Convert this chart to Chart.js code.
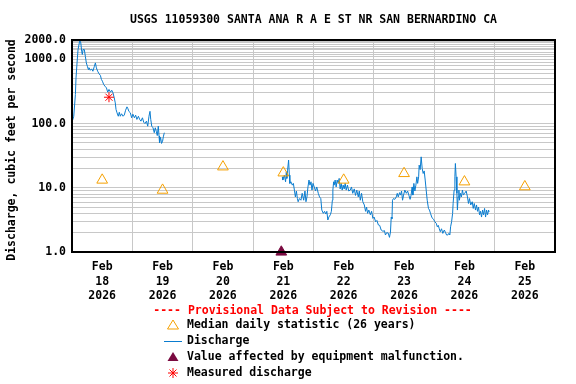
<!DOCTYPE html>
<html>
<head>
<meta charset="utf-8">
<script src="https://cdn.jsdelivr.net/npm/chart.js@4/dist/chart.umd.min.js"></script>
<style>
html,body{margin:0;padding:0;background:#fff;}
canvas{display:block;}
</style>
</head>
<body>
<canvas id="c" width="576" height="384"></canvas>
<script>
// ---- data (hours since Feb 18 2026 00:00) ----
const chartTitle = "USGS 11059300 SANTA ANA R A E ST NR SAN BERNARDINO CA";
const yAxisTitle = "Discharge, cubic feet per second";
const xTickMonth = "Feb";
const xTickDays = ["18","19","20","21","22","23","24","25"];
const xTickYear = "2026";
const yLabelValues = [1, 10, 100, 1000, 2000];
const yLabelTexts = ["1.0", "10.0", "100.0", "1000.0", "2000.0"];

const dischargeHours = [
 0,0.7,1.35,1.6,2.0,2.4,3.1,3.5,3.85,4.1,4.4,4.9,5.3,5.7,6.1,6.5,6.75,7.3,7.8,8.3,8.9,9.3,9.7,10.2,10.7,11.3,11.7,12.1,12.6,13.1,13.7,14.2,14.7,15.3,15.8,16.3,16.8,17.2,17.5,17.9,18.4,18.8,19.2,19.7,20.3,20.8,21.3,21.85,22.25,22.6,23.2,23.7,24.2,24.8,25.3,25.8,26.4,26.9,27.4,28.0,28.5,29.0,29.6,30.1,30.6,31.0,31.3,31.7,32.2,32.7,33.1,33.5,33.9,34.3,34.6,34.8,35.2,35.6,36.0,36.3,36.7,
 50,
 83.6,83.8,84.4,84.9,85.2,85.4,85.7,86.1,86.4,86.6,87.0,87.6,88.0,88.4,88.8,89.2,89.6,89.9,90.4,91.0,91.5,92.1,92.6,93.0,93.4,93.8,94.2,94.6,95.0,95.4,95.8,96.3,96.8,97.3,97.9,98.4,98.9,99.3,99.9,100.4,100.9,101.3,101.7,102.1,102.7,103.1,103.5,103.7,104.0,104.2,104.6,105.0,105.4,105.8,106.2,106.6,107.0,107.4,107.8,108.2,108.6,109.0,109.5,110.0,110.6,111.1,111.6,112.2,112.7,113.2,113.8,114.2,114.6,115.1,115.6,116.2,116.7,117.1,117.5,118.0,118.6,119.1,119.6,120.1,120.7,121.2,121.8,
 122.3,122.9,123.6,124.2,124.6,125.1,125.7,126.2,126.6,126.9,127.2,127.4,127.8,128.3,128.9,129.3,129.7,130.2,130.6,131.0,131.4,131.8,132.3,132.9,133.4,133.9,134.4,134.8,135.2,135.5,135.9,136.3,136.7,137.1,137.4,137.8,138.0,138.4,138.8,139.2,139.6,140.0,140.4,140.8,141.2,141.7,142.1,142.5,143.0,143.4,143.8,144.2,144.8,145.2,145.6,146.0,146.4,146.9,147.4,148.0,148.5,148.9,149.4,149.8,150.2,150.5,150.9,151.3,151.5,151.9,152.2,152.4,152.7,153.0,153.2,153.5,153.8,154.0,154.4,154.8,155.2,155.6,156.1,156.7,157.2,157.6,158.0,158.5,159.1,159.5,159.9,160.4,160.8,161.2,161.6,162.0,162.4,162.8,163.2,163.6,164.0,164.4,164.8,165.2,165.6,165.8
];
const dischargeValues = [
 105,130,283,514,879,1420,1980,1800,1336,1189,1420,1420,1117,880,781,694,740,676,710,653,781,880,735,653,601,560,486,456,405,382,359,308,340,308,330,300,251,210,166,147,130,150,130,142,130,136,161,182,170,155,147,123,140,123,135,116,130,116,109,123,105,100,109,91,130,155,116,91,86,72,86,76,65,91,64,50,61,49,53,62,72,
 null,
 14.8,13.2,15.7,12.4,17.7,14,18.8,27,15.7,11.7,12.4,11,11.7,9.2,7.2,8.9,6.8,6.06,6.8,6.4,8.2,6.4,8.9,6.06,7.2,10.3,13.2,11,12.4,9.2,11.7,10.3,8.9,10.3,8.2,7.2,6.8,4.5,4.0,4.3,3.9,4.3,3.15,3.5,3.8,4.3,6.4,9.2,12.4,11,13.2,10.3,13.2,11.7,14,9.6,11.7,9.2,11,9.6,11.7,9.2,11,8.9,9.2,10.3,8.2,9.6,7.6,9.2,7.2,8.9,6.4,8.2,6.06,5.4,4.3,5.0,4.0,4.5,3.8,4.3,3.34,3.5,2.96,3.1,2.63,
 2.6,2.2,2.1,2.15,1.84,2.0,1.97,1.69,2.05,3.5,3.3,6.4,6.8,6.6,7.2,8.2,7.2,8.4,7.7,8.9,6.4,7.7,9.2,8.2,8.9,7.7,6.6,7.7,10.3,7.7,11.7,8.9,11,14.8,11.7,14.8,22.5,19.2,30.3,20,16.7,18.3,13.2,9.2,6.4,4.77,4.5,4.0,3.5,3.3,3.2,2.96,2.8,2.47,2.6,2.3,2.07,2.3,1.95,2.2,2.0,1.84,1.84,1.95,1.84,2.47,2.96,4.0,5.7,9.2,14.8,23.9,14.8,8.2,4.5,7.2,9.2,6.4,8.2,7.2,9.2,7.7,8.2,8.9,7.2,5.7,6.8,5.4,6.06,4.77,5.7,4.5,5.4,4.3,5.0,3.8,4.3,3.5,4.5,3.8,4.77,3.5,4.5,3.8,4.5,4.2
];

const medianHours = [12, 36, 60, 84, 108, 132, 156, 180];
const medianValues = [13.2, 9.2, 21.2, 17.1, 13.2, 16.7, 12.4, 10.4];

const malfunctionHours = [83.2];
const malfunctionValues = [1.0];

const measuredHours = [14.7];
const measuredValues = [257];

const legendHeader = "---- Provisional Data Subject to Revision ----";
const legendLabels = [
  "Median daily statistic (26 years)",
  "Discharge",
  "Value affected by equipment malfunction.",
  "Measured discharge"
];

// ---- styling ----
const FONT = '"DejaVu Sans Mono", monospace';
const BLUE = '#0a7ccf';
const ORANGE = '#f5a000';
const MAROON = '#7a0a40';
const RED = '#ff0000';
const GRID = '#c8c8c8';

const pts = (xs, ys) => xs.map((x, i) => ({x: x, y: ys[i]}));

// gridline values on the log axis
const yGridValues = [];
for (let d = 1; d <= 100; d *= 10) for (let m = 1; m <= 9; m++) yGridValues.push(m * d);
for (let m = 1000; m <= 2000; m += 100) yGridValues.push(m);

const decor = {
  id: 'decor',
  afterDraw(chart) {
    const ctx = chart.ctx, a = chart.chartArea;
    ctx.save();
    // frame
    ctx.strokeStyle = '#000';
    ctx.lineWidth = 2;
    ctx.strokeRect(a.left, a.top, a.right - a.left, a.bottom - a.top);
    // title
    ctx.fillStyle = '#000';
    ctx.font = 'bold 11.5px ' + FONT;
    ctx.textAlign = 'center';
    ctx.textBaseline = 'middle';
    ctx.fillText(chartTitle, (a.left + a.right) / 2, 20);
    // y-axis title
    ctx.save();
    ctx.translate(12, 150);
    ctx.rotate(-Math.PI / 2);
    ctx.fillText(yAxisTitle, 0, 0);
    ctx.restore();
    // legend
    ctx.fillStyle = RED;
    ctx.fillText(legendHeader, 312.5, 311);
    ctx.textAlign = 'left';
    ctx.fillStyle = '#000';
    const rows = [325, 341, 357, 373];
    const tx = 187;
    legendLabels.forEach((t, i) => ctx.fillText(t, tx, rows[i]));
    const ix = 173;
    // open orange triangle
    ctx.strokeStyle = ORANGE; ctx.lineWidth = 1;
    ctx.beginPath();
    ctx.moveTo(ix, rows[0] - 5); ctx.lineTo(ix + 5.5, rows[0] + 4); ctx.lineTo(ix - 5.5, rows[0] + 4); ctx.closePath();
    ctx.stroke();
    // blue line
    ctx.strokeStyle = BLUE;
    ctx.beginPath(); ctx.moveTo(164, rows[1] + 0.5); ctx.lineTo(182, rows[1] + 0.5); ctx.stroke();
    // maroon filled triangle
    ctx.fillStyle = MAROON;
    ctx.beginPath();
    ctx.moveTo(ix, rows[2] - 5); ctx.lineTo(ix + 5.5, rows[2] + 4); ctx.lineTo(ix - 5.5, rows[2] + 4); ctx.closePath();
    ctx.fill();
    // red asterisk
    ctx.strokeStyle = RED;
    ctx.beginPath();
    const r = 5, cy = rows[3];
    ctx.moveTo(ix - r, cy); ctx.lineTo(ix + r, cy);
    ctx.moveTo(ix, cy - r); ctx.lineTo(ix, cy + r);
    ctx.moveTo(ix - 3.5, cy - 3.5); ctx.lineTo(ix + 3.5, cy + 3.5);
    ctx.moveTo(ix - 3.5, cy + 3.5); ctx.lineTo(ix + 3.5, cy - 3.5);
    ctx.stroke();
    ctx.restore();
  }
};

new Chart(document.getElementById('c'), {
  type: 'line',
  data: {
    datasets: [
      {
        label: 'Discharge',
        data: pts(dischargeHours, dischargeValues),
        borderColor: BLUE, borderWidth: 1, pointRadius: 0, tension: 0, spanGaps: false, fill: false, order: 3
      },
      {
        label: 'Median',
        data: pts(medianHours, medianValues),
        showLine: false, pointStyle: 'triangle', pointRadius: 6.2,
        pointBorderColor: ORANGE, pointBackgroundColor: 'rgba(0,0,0,0)', pointBorderWidth: 1, order: 2
      },
      {
        label: 'Malfunction',
        data: pts(malfunctionHours, malfunctionValues),
        showLine: false, pointStyle: 'triangle', pointRadius: 6.2,
        pointBorderColor: MAROON, pointBackgroundColor: MAROON, pointBorderWidth: 1, clip: false, order: 1
      },
      {
        label: 'Measured',
        data: pts(measuredHours, measuredValues),
        showLine: false, pointStyle: 'star', pointRadius: 5,
        pointBorderColor: RED, pointBackgroundColor: RED, pointBorderWidth: 1, order: 0
      }
    ]
  },
  options: {
    responsive: false,
    animation: false,
    devicePixelRatio: 1,
    layout: { padding: { left: 0, right: 21, top: 40, bottom: 0 } },
    plugins: { legend: { display: false }, tooltip: { enabled: false }, title: { display: false } },
    scales: {
      x: {
        type: 'linear', min: 0, max: 192,
        afterBuildTicks(scale) {
          const t = [];
          for (let v = 0; v <= 192; v += 12) t.push({ value: v });
          scale.ticks = t;
        },
        afterFit(scale) { scale.height = 132; },
        grid: {
          color: (c) => (c.tick && c.tick.value % 24 === 0) ? GRID : 'rgba(0,0,0,0)',
          lineWidth: 1, drawTicks: false
        },
        border: { display: false },
        ticks: {
          autoSkip: false, maxRotation: 0, minRotation: 0, padding: 8,
          color: '#000',
          font: { family: FONT, size: 11.5, weight: 'bold', lineHeight: 1.27 },
          callback: (v) => {
            if (v % 24 === 12) {
              const i = (v - 12) / 24;
              return [xTickMonth, xTickDays[i], xTickYear];
            }
            return '';
          }
        }
      },
      y: {
        type: 'logarithmic', min: 1, max: 2000,
        afterBuildTicks(scale) {
          scale.ticks = yGridValues.map(v => ({ value: v, major: false }));
        },
        afterFit(scale) { scale.width = 72; },
        grid: { color: GRID, lineWidth: 1, drawTicks: false },
        border: { display: false },
        ticks: {
          autoSkip: false, padding: 6, color: '#000',
          font: { family: FONT, size: 11.5, weight: 'bold' },
          callback: (v) => {
            const i = yLabelValues.indexOf(v);
            return i >= 0 ? yLabelTexts[i] : '';
          }
        }
      }
    }
  },
  plugins: [decor]
});
</script>
</body>
</html>
